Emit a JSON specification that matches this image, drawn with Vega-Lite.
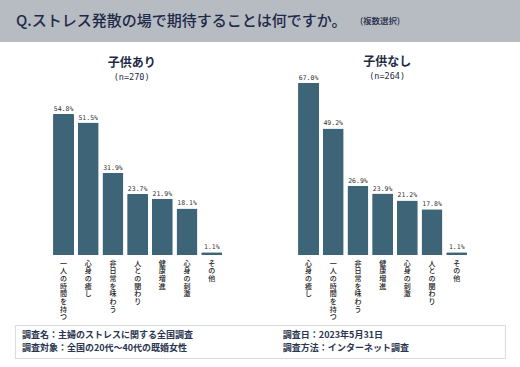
{
  "$schema": "https://vega.github.io/schema/vega-lite/v6.json",
  "padding": 0,
  "background": "white",
  "spacing": 14,
  "center": true,
  "config": {"view": {"stroke": null}, "font": "Noto Sans CJK JP"},
  "datasets": {
    "header": [
      {"part": "q", "t": "Q.ストレス発散の場で期待することは何ですか。"},
      {"part": "note", "t": "(複数選択)"}
    ],
    "ari": [
      {"item": "一人の時間を持つ", "pct": 54.8},
      {"item": "心身の癒し", "pct": 51.5},
      {"item": "非日常を味わう", "pct": 31.9},
      {"item": "人との関わり", "pct": 23.7},
      {"item": "健康増進", "pct": 21.9},
      {"item": "心身の刺激", "pct": 18.1},
      {"item": "その他", "pct": 1.1}
    ],
    "nashi": [
      {"item": "心身の癒し", "pct": 67.0},
      {"item": "一人の時間を持つ", "pct": 49.2},
      {"item": "非日常を味わう", "pct": 26.9},
      {"item": "健康増進", "pct": 23.9},
      {"item": "心身の刺激", "pct": 21.2},
      {"item": "人との関わり", "pct": 17.8},
      {"item": "その他", "pct": 1.1}
    ],
    "footer": [
      {"col": "a", "row": "r1", "t": "調査名：主婦のストレスに関する全国調査"},
      {"col": "a", "row": "r2", "t": "調査対象：全国の20代〜40代の既婚女性"},
      {"col": "b", "row": "r1", "t": "調査日：2023年5月31日"},
      {"col": "b", "row": "r2", "t": "調査方法：インターネット調査"}
    ]
  },
  "vconcat": [
    {
      "width": 520,
      "height": 42,
      "view": {"fill": "#b7bcc3", "stroke": null},
      "data": {"name": "header"},
      "mark": {"type": "text", "align": "left", "baseline": "middle", "color": "#1e2a48", "fontWeight": 500, "dx": -72},
      "encoding": {
        "x": {"field": "part", "type": "nominal", "sort": null,
              "scale": {"type": "point", "padding": 0.2558}, "axis": null},
        "text": {"field": "t"},
        "size": {"field": "part", "type": "nominal", "scale": {"domain": ["q", "note"], "range": [15, 8.5]}, "legend": null}
      }
    },
    {
      "spacing": 4,
      "center": true,
      "vconcat": [
        {
          "spacing": 73,
          "hconcat": [
            {
              "width": 172,
              "height": 180,
              "data": {"name": "ari"},
              "title": {"text": "子供あり", "subtitle": "(n=270)", "fontSize": 12, "fontWeight": "bold", "color": "#1f2a44",
                        "subtitleFont": "DejaVu Sans Mono", "subtitleFontSize": 8.5, "subtitleColor": "#1f2a44",
                        "subtitlePadding": 3, "offset": -7, "anchor": "middle", "dx": -6},
              "encoding": {
                "x": {"field": "item", "type": "nominal", "sort": null,
                      "scale": {"paddingInner": 0.15, "paddingOuter": 0.057},
                      "axis": {"title": null, "domain": false, "ticks": false, "labelAngle": 0, "labelAlign": "center",
                               "labelBaseline": "top", "labelPadding": 4, "labelFontSize": 7, "labelLineHeight": 7.7,
                               "labelColor": "#222222", "labelFont": "Noto Sans CJK JP", "labelFontWeight": 500,
                               "labelExpr": "split(datum.label, '')"}},
                "y": {"field": "pct", "type": "quantitative", "scale": {"domain": [0, 70]}, "axis": null}
              },
              "layer": [
                {"mark": {"type": "bar", "color": "#3e6478", "cornerRadiusTopLeft": 1, "cornerRadiusTopRight": 1}},
                {
                  "transform": [{"calculate": "format(datum.pct, '.1f') + '%'", "as": "lab"}],
                  "mark": {"type": "text", "baseline": "bottom", "dy": -2, "font": "DejaVu Sans Mono", "fontSize": 6.5, "color": "#333333"},
                  "encoding": {"text": {"field": "lab"}}
                }
              ]
            },
            {
              "width": 172,
              "height": 180,
              "data": {"name": "nashi"},
              "title": {"text": "子供なし", "subtitle": "(n=264)", "fontSize": 12, "fontWeight": "bold", "color": "#1f2a44",
                        "subtitleFont": "DejaVu Sans Mono", "subtitleFontSize": 8.5, "subtitleColor": "#1f2a44",
                        "subtitlePadding": 3, "offset": -7, "anchor": "middle", "dx": 4.5},
              "encoding": {
                "x": {"field": "item", "type": "nominal", "sort": null,
                      "scale": {"paddingInner": 0.15, "paddingOuter": 0.057},
                      "axis": {"title": null, "domain": false, "ticks": false, "labelAngle": 0, "labelAlign": "center",
                               "labelBaseline": "top", "labelPadding": 4, "labelFontSize": 7, "labelLineHeight": 7.7,
                               "labelColor": "#222222", "labelFont": "Noto Sans CJK JP", "labelFontWeight": 500,
                               "labelExpr": "split(datum.label, '')"}},
                "y": {"field": "pct", "type": "quantitative", "scale": {"domain": [0, 70]}, "axis": null}
              },
              "layer": [
                {"mark": {"type": "bar", "color": "#3e6478", "cornerRadiusTopLeft": 1, "cornerRadiusTopRight": 1}},
                {
                  "transform": [{"calculate": "format(datum.pct, '.1f') + '%'", "as": "lab"}],
                  "mark": {"type": "text", "baseline": "bottom", "dy": -2, "font": "DejaVu Sans Mono", "fontSize": 6.5, "color": "#333333"},
                  "encoding": {"text": {"field": "lab"}}
                }
              ]
            }
          ]
        },
        {
          "width": 490,
          "height": 33,
          "view": {"stroke": "#d9d9d9", "fill": "white"},
          "data": {"name": "footer"},
          "mark": {"type": "text", "align": "left", "baseline": "middle", "fontSize": 9, "fontWeight": "bold", "color": "#2a3550", "dx": -107.5},
          "encoding": {
            "x": {"field": "col", "type": "nominal", "sort": null,
                  "scale": {"type": "point", "padding": 0.4387}, "axis": null},
            "y": {"field": "row", "type": "nominal", "sort": null,
                  "scale": {"type": "point", "padding": 0.679}, "axis": null},
            "text": {"field": "t"}
          }
        }
      ]
    }
  ]
}
